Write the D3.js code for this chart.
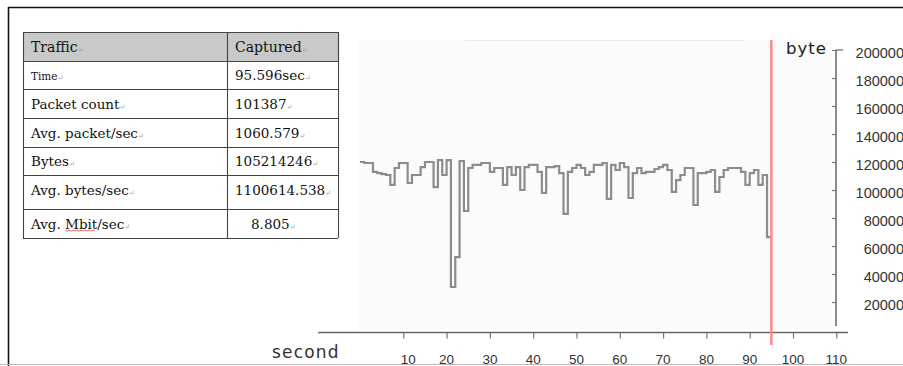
<!DOCTYPE html>
<html>
<head>
<meta charset="utf-8">
<script src="https://cdn.jsdelivr.net/npm/d3@7"></script>
<style>
  html, body { margin: 0; padding: 0; background: #fff; }
  svg { display: block; }
</style>
</head>
<body>
<svg id="chart" width="903" height="366"></svg>
<script>
// ---- data ----
const tableHeader = ["Traffic", "Captured"];
const tableLabels = ["Time", "Packet count", "Avg. packet/sec", "Bytes", "Avg. bytes/sec", "Avg. Mbit/sec"];
const tableValues = ["95.596sec", "101387", "1060.579", "105214246", "1100614.538", "8.805"];

const seconds = d3.range(0, 96); // 0..95
const bytesPerSecond = [
  120000, 119300, 119300, 112900, 112100, 111400, 110700, 103600, 115700, 119300,
  119300, 105000, 110700, 110700, 116400, 120000, 120000, 102100, 121400, 110700,
  121400, 30700, 52100, 120700, 85000, 115700, 117900, 117900, 119300, 119300,
  112900, 115700, 115700, 103600, 116400, 110700, 116400, 100000, 116400, 117900,
  117900, 112900, 97900, 116400, 116400, 117100, 112100, 82900, 112900, 115700,
  117900, 115700, 110700, 112900, 117900, 117900, 119300, 93600, 117900, 114300,
  119300, 116400, 94300, 112100, 115700, 112100, 112900, 112900, 115000, 116400,
  117900, 114300, 98600, 107100, 110700, 115700, 115700, 89300, 112100, 112100,
  112900, 114300, 98600, 109300, 114300, 115700, 115700, 115700, 112900, 103600,
  112100, 114300, 103600, 110700, 66400, 66400
];
const xTicks = [10, 20, 30, 40, 50, 60, 70, 80, 90, 100, 110];
const yTicks = [20000, 40000, 60000, 80000, 100000, 120000, 140000, 160000, 180000, 200000];
const captureEnd = 95;
const xTitle = "second";
const yTitle = "byte";

// ---- drawing ----
const svg = d3.select("#chart");

// outer frame
svg.append("line").attr("x1", 8).attr("x2", 903).attr("y1", 7.5).attr("y2", 7.5)
  .attr("stroke", "#111").attr("stroke-width", 1.6);
svg.append("line").attr("x1", 8.5).attr("x2", 8.5).attr("y1", 7).attr("y2", 366)
  .attr("stroke", "#111").attr("stroke-width", 1.6);
svg.append("line").attr("x1", 0).attr("x2", 903).attr("y1", 364.5).attr("y2", 364.5)
  .attr("stroke", "#bbb").attr("stroke-width", 1);

// plot background
svg.append("rect").attr("x", 357).attr("y", 40).attr("width", 475).attr("height", 290)
  .attr("fill", "#fafbfa");
svg.append("line").attr("x1", 465).attr("x2", 745).attr("y1", 40.5).attr("y2", 40.5)
  .attr("stroke", "#f0e6e6").attr("stroke-width", 1);

const x = d3.scaleLinear().domain([0, 110]).range([360, 836.3]);
const y = d3.scaleLinear().domain([0, 200000]).range([330, 50]);

// x axis
const xAxis = d3.axisBottom(x).tickValues(xTicks).tickSize(6).tickFormat("");
const gx = svg.append("g").attr("transform", "translate(0,332.5)").call(xAxis);
gx.select(".domain").remove();
gx.selectAll(".tick line").attr("stroke", "#777").attr("stroke-width", 1.2);
svg.append("line").attr("x1", 318).attr("x2", 848).attr("y1", 332.5).attr("y2", 332.5)
  .attr("stroke", "#666").attr("stroke-width", 1.5);
svg.selectAll(".xlab").data(xTicks).enter().append("text")
  .attr("class", "xlab")
  .attr("x", d => x(d) + (d === 10 ? 5 : 0))
  .attr("y", 364)
  .attr("text-anchor", "middle")
  .attr("font-family", "Liberation Sans, Arial, sans-serif")
  .attr("font-size", 13.5)
  .attr("fill", "#333")
  .text(d => d);
svg.append("text").attr("x", 272).attr("y", 358)
  .attr("font-family", "DejaVu Sans, sans-serif").attr("font-size", 17)
  .attr("letter-spacing", 1.2).attr("fill", "#333").text(xTitle);

// y axis
const yAxis = d3.axisLeft(y).tickValues(yTicks).tickSize(4).tickFormat("");
const gy = svg.append("g").attr("transform", "translate(836,0)").call(yAxis);
gy.select(".domain").remove();
gy.selectAll(".tick line").attr("stroke", "#777").attr("stroke-width", 1.2);
svg.append("line").attr("x1", 836).attr("x2", 836).attr("y1", y(200000)).attr("y2", 326)
  .attr("stroke", "#666").attr("stroke-width", 1.5);
svg.append("line").attr("x1", 836).attr("x2", 843).attr("y1", y(200000)).attr("y2", y(200000))
  .attr("stroke", "#666").attr("stroke-width", 1.2);
svg.selectAll(".ylab").data(yTicks).enter().append("text")
  .attr("class", "ylab")
  .attr("x", 904)
  .attr("y", d => y(d) + 8)
  .attr("text-anchor", "end")
  .attr("font-family", "Liberation Sans, Arial, sans-serif")
  .attr("font-size", 14.5)
  .attr("fill", "#333")
  .text(d => d);
svg.append("text").attr("x", 786).attr("y", 54)
  .attr("font-family", "DejaVu Sans, sans-serif").attr("font-size", 16.5)
  .attr("letter-spacing", 1).attr("fill", "#222").text(yTitle);

// data line
const line = d3.line()
  .x((d, i) => x(seconds[i]))
  .y(d => y(d))
  .curve(d3.curveStepAfter);
svg.append("path").datum(bytesPerSecond)
  .attr("d", line)
  .attr("fill", "none")
  .attr("stroke", "#8c8c8c")
  .attr("stroke-width", 2.2)
  .attr("stroke-linejoin", "miter");

// capture end marker
svg.append("line").attr("x1", x(captureEnd)).attr("x2", x(captureEnd))
  .attr("y1", 40).attr("y2", 345)
  .attr("stroke", "#ff8a8a").attr("stroke-width", 2.5);

// ---- table ----
const tx0 = 23, tx1 = 227, tx2 = 338;
const rowEdges = [32, 61, 89, 118, 147, 175, 209, 238];
const tg = svg.append("g");
tg.append("rect").attr("x", tx0).attr("y", rowEdges[0]).attr("width", tx2 - tx0)
  .attr("height", rowEdges[1] - rowEdges[0]).attr("fill", "#c9c9c9");
rowEdges.forEach(r => {
  tg.append("line").attr("x1", tx0).attr("x2", tx2).attr("y1", r + 0.5).attr("y2", r + 0.5)
    .attr("stroke", "#444").attr("stroke-width", 1.1);
});
[tx0, tx1, tx2].forEach(c => {
  tg.append("line").attr("x1", c + 0.5).attr("x2", c + 0.5).attr("y1", rowEdges[0]).attr("y2", rowEdges[rowEdges.length - 1])
    .attr("stroke", "#444").attr("stroke-width", 1.1);
});

function cellText(xp, yp, txt, size) {
  const t = tg.append("text").attr("x", xp).attr("y", yp)
    .attr("font-family", "DejaVu Serif, Liberation Serif, serif")
    .attr("font-size", size).attr("fill", "#111");
  t.append("tspan").text(txt);
  t.append("tspan").attr("font-size", 7).attr("fill", "#999").text("\u21B5");
  return t;
}
cellText(31, 52, tableHeader[0], 14);
cellText(235, 52, tableHeader[1], 14);
tableLabels.forEach((lab, i) => {
  const top = rowEdges[i + 1], bot = rowEdges[i + 2];
  const base = (i === 4) ? top + 20 : (top + bot) / 2 + 5;
  cellText(31, base, lab, i === 0 ? 10.5 : 13.5);
  cellText(i === 5 ? 251 : 235, base, tableValues[i], 13.5);
});
// spell-check squiggle under "Mbit"
const sq = d3.range(0, 16).map(k => [65 + k * 2, 230 + (k % 2 ? 1.2 : 0)]);
tg.append("path").attr("d", d3.line()(sq)).attr("fill", "none")
  .attr("stroke", "#e04040").attr("stroke-width", 0.8);
</script>
</body>
</html>
